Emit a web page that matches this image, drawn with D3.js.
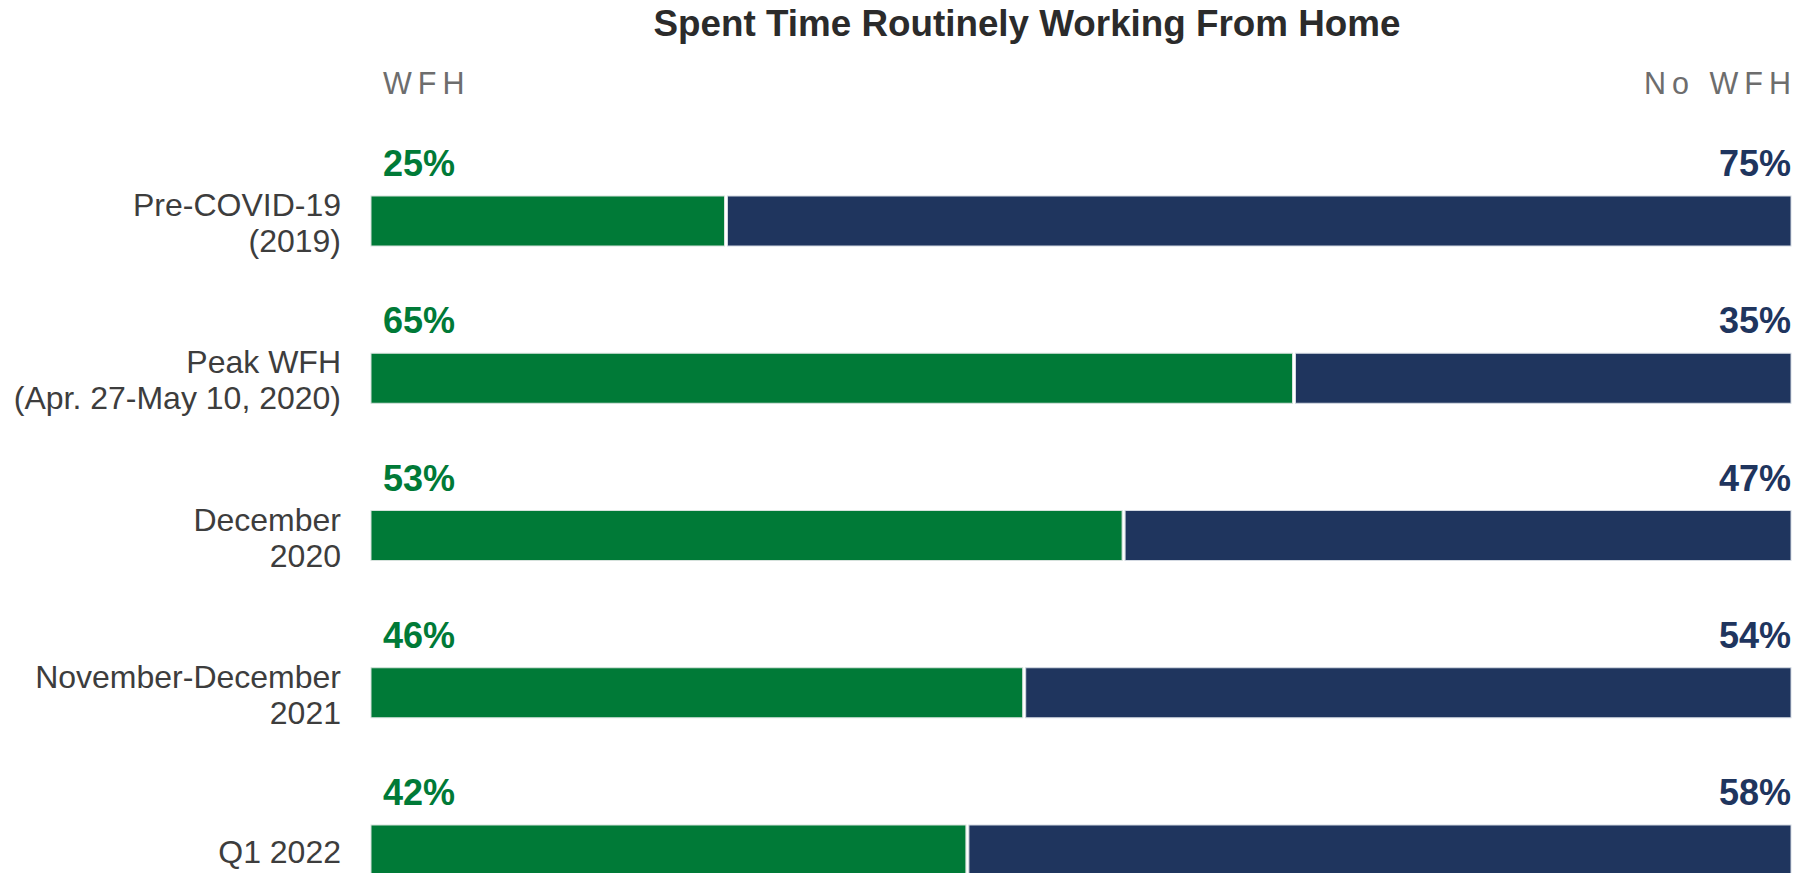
<!DOCTYPE html>
<html>
<head>
<meta charset="utf-8">
<script src="https://cdn.jsdelivr.net/npm/d3@7"></script>
<style>
  body { margin: 0; background: #fff; }
  text { font-family: "Liberation Sans", Arial, sans-serif; }
</style>
</head>
<body>
<div id="wfh_chart"></div>
<script>
// data
var categories = ["Pre-COVID-19\n(2019)", "Peak WFH\n(Apr. 27-May 10, 2020)", "December\n2020", "November-December\n2021", "Q1 2022"];
var wfh = [25, 65, 53, 46, 42];
var noWfh = [75, 35, 47, 54, 58];
var seriesNames = ["WFH", "No WFH"];

var data = categories.map(function(c, i) { return {cat: c, wfh: wfh[i], no: noWfh[i]}; });

var width = 1797, height = 873;
var barH = 50;
var green = "#007a37", navy = "#1f355e";

var svg = d3.select("#wfh_chart")
  .append("svg")
    .attr("width", width)
    .attr("height", height);

// scales
var x = d3.scaleLinear()
  .domain([0, 100])
  .range([371, 1791]);

var y = d3.scalePoint()
  .domain(categories)
  .range([196, 825]);

// title
svg.append("text")
  .attr("x", 1027)
  .attr("y", 36)
  .attr("text-anchor", "middle")
  .style("font-size", "36.8px")
  .style("font-weight", "bold")
  .style("fill", "#2b2b2b")
  .text("Spent Time Routinely Working From Home");

// series headers
svg.append("text")
  .attr("x", x(0) + 12)
  .attr("y", 94)
  .style("font-size", "30.5px")
  .style("letter-spacing", "6px")
  .style("fill", "#6d6d6d")
  .text(seriesNames[0]);

svg.append("text")
  .attr("x", x(100) + 6)
  .attr("y", 94)
  .attr("text-anchor", "end")
  .style("font-size", "30.5px")
  .style("letter-spacing", "6px")
  .style("fill", "#6d6d6d")
  .text(seriesNames[1]);

var rows = svg.selectAll(".row")
  .data(data)
  .enter()
  .append("g")
    .attr("class", "row");

// WFH segment
rows.append("rect")
  .attr("x", x(0))
  .attr("y", function(d) { return y(d.cat); })
  .attr("width", function(d) { return x(d.wfh) - x(0) - 1.5; })
  .attr("height", barH)
  .attr("fill", green)
  .attr("stroke", "#d6e2dc")
  .attr("stroke-width", 1);

// No WFH segment
rows.append("rect")
  .attr("x", function(d) { return x(d.wfh) + 1.5; })
  .attr("y", function(d) { return y(d.cat); })
  .attr("width", function(d) { return x(100) - x(d.wfh) - 1.5; })
  .attr("height", barH)
  .attr("fill", navy)
  .attr("stroke", "#d3d9e2")
  .attr("stroke-width", 1);

// value labels
rows.append("text")
  .attr("x", x(0) + 12)
  .attr("y", function(d) { return y(d.cat) - 20; })
  .style("font-size", "36px")
  .style("font-weight", "bold")
  .style("fill", green)
  .text(function(d) { return d.wfh + "%"; });

rows.append("text")
  .attr("x", x(100))
  .attr("y", function(d) { return y(d.cat) - 20; })
  .attr("text-anchor", "end")
  .style("font-size", "36px")
  .style("font-weight", "bold")
  .style("fill", navy)
  .text(function(d) { return d.no + "%"; });

// category labels, one tspan per line
rows.append("text")
  .attr("text-anchor", "end")
  .style("font-size", "32px")
  .style("fill", "#3d3d3d")
  .each(function(d) {
    var lines = d.cat.split("\n");
    var cy = y(d.cat) + barH / 2;
    var t = d3.select(this);
    lines.forEach(function(l, i) {
      t.append("tspan")
        .attr("x", 341)
        .attr("y", cy + 13 + (i - (lines.length - 1) / 2) * 36)
        .text(l);
    });
  });
</script>
</body>
</html>
